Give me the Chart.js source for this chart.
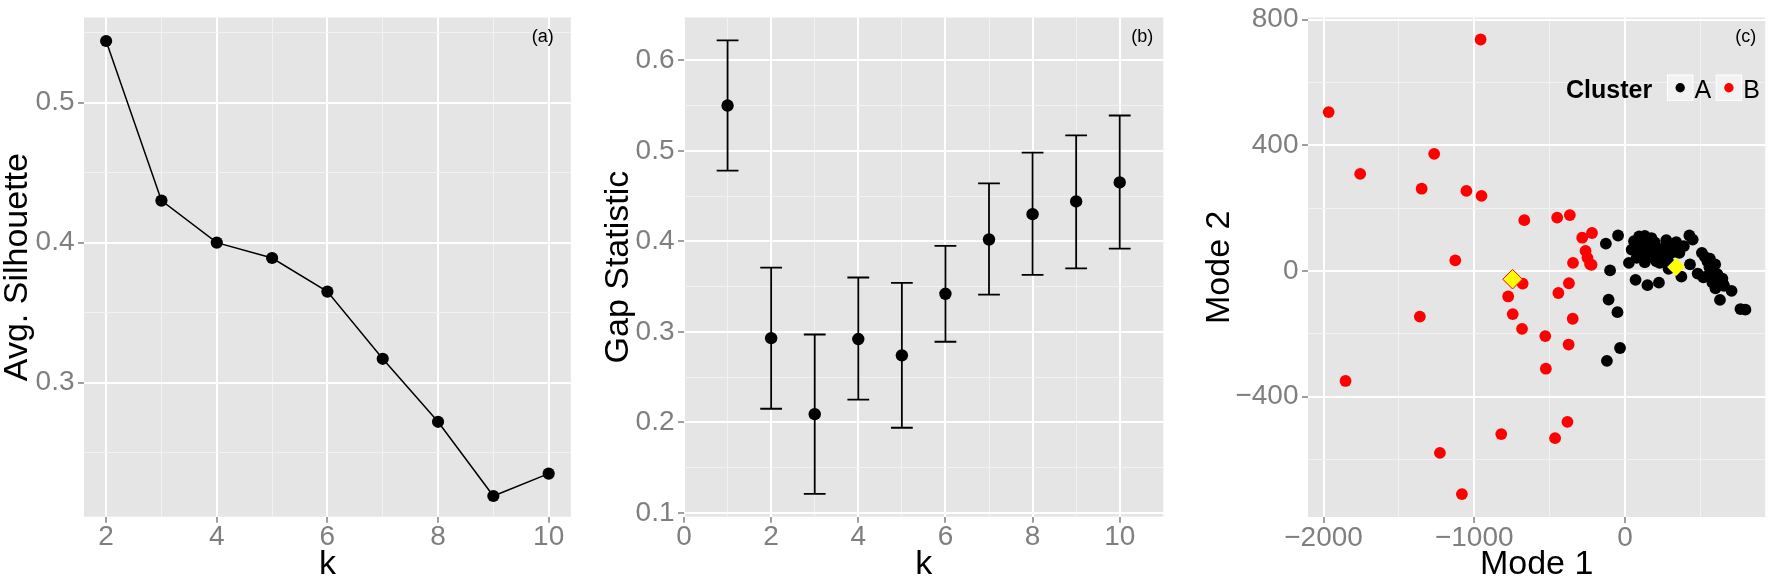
<!DOCTYPE html>
<html>
<head>
<meta charset="utf-8">
<script src="https://cdn.jsdelivr.net/npm/chart.js@4.4.1/dist/chart.umd.min.js"></script>
<style>
  html, body { margin: 0; padding: 0; background: #fff; }
  #wrap { position: relative; width: 1776px; height: 582px; }
  #wrap canvas { position: absolute; top: 0; }
</style>
</head>
<body>
<div id="wrap">
  <canvas id="silChart" width="592" height="582" style="left:0"></canvas>
  <canvas id="gapChart" width="592" height="582" style="left:592px"></canvas>
  <canvas id="modeChart" width="592" height="582" style="left:1184px"></canvas>
</div>
<script>
// (a) average silhouette by k
const silK = [2, 3, 4, 5, 6, 7, 8, 9, 10];
const silValues = [0.544, 0.430, 0.400, 0.389, 0.365, 0.317, 0.272, 0.219, 0.235];
const silXTicks = [2, 4, 6, 8, 10];
const silXMinor = [3, 5, 7, 9];
const silYTicks = [0.3, 0.4, 0.5];
const silYLabels = ['0.3', '0.4', '0.5'];
const silYMinor = [0.25, 0.35, 0.45, 0.55];

// (b) gap statistic with error bars
const gapK = [1, 2, 3, 4, 5, 6, 7, 8, 9, 10];
const gapValues = [0.550, 0.293, 0.209, 0.292, 0.274, 0.342, 0.402, 0.430, 0.444, 0.465];
const gapUpper = [0.622, 0.371, 0.297, 0.360, 0.354, 0.395, 0.464, 0.498, 0.517, 0.539];
const gapLower = [0.478, 0.215, 0.121, 0.225, 0.194, 0.289, 0.341, 0.363, 0.370, 0.392];
const gapXTicks = [0, 2, 4, 6, 8, 10];
const gapXMinor = [1, 3, 5, 7, 9];
const gapYTicks = [0.1, 0.2, 0.3, 0.4, 0.5, 0.6];
const gapYLabels = ['0.1', '0.2', '0.3', '0.4', '0.5', '0.6'];
const gapYMinor = [0.15, 0.25, 0.35, 0.45, 0.55];

// (c) modes, two clusters
const clusterNames = ['A', 'B'];
const clusterAX = [-127, -46, -99, 26, 70, 149, 225, -109, -50, -33, -120,
  374, 289, 431, 482, 510, 563, 598, 630, 707, 427, 449, 766, 799,
  94, 131, 175, 116, 164, 197, 44, 88, 138, 186, 109, 153, 131, 208, 77,
  274, 317, 256, 306, 247, 285, 230, 390, 361,
  547, 580, 613, 646, 624, 657, 547, 580, 530, 600,
  60, 150, 200, 335, 340, 560, 650, 520];
const clusterAY = [87, 113, 2, 26, -28, -45, -37, -91, -131, -245, -286,
  -18, 7, 21, -8, 58, 39, 21, -92, -63, 113, 100, -121, -123,
  110, 112, 105, 91, 87, 91, 68, 63, 68, 58, 47, 42, 28, 31, 42,
  98, 84, 73, 58, 47, 31, 26, 79, 58,
  31, 10, -10, -24, -37, -47, -16, -37, 45, -55,
  95, 75, 70, 62, 92, 12, -40, -20];
const clusterBX = [-958, -1966, -1266, -1757, -1349, -1052, -952, -668, -450, -366,
  -284, -219, -262, -249, -232, -222, -345, -1126, -679, -372, -775, -442, -745,
  -1361, -347, -683, -529, -374, -525, -1854, -382, -821, -464, -1228, -1082];
const clusterBY = [737, 506, 373, 309, 262, 255, 239, 162, 170, 178,
  106, 121, 64, 42, 22, 20, 26, 34, -40, -39, -81, -70, -137,
  -145, -152, -184, -207, -234, -311, -350, -480, -519, -532, -579, -710];
const centroidX = [339, -746];
const centroidY = [13, -26];
const modeXTicks = [-2000, -1000, 0];
const modeXLabels = ['\u22122000', '\u22121000', '0'];
const modeXMinor = [-1500, -500, 500];
const modeYTicks = [-400, 0, 400, 800];
const modeYLabels = ['\u2212400', '0', '400', '800'];
const modeYMinor = [-600, -200, 200, 600];

Chart.defaults.font.family = '"Liberation Sans", Arial, sans-serif';

const panelBg = {
  id: 'panelBg',
  beforeDraw(chart) {
    const { ctx, chartArea: a } = chart;
    ctx.save();
    ctx.fillStyle = '#E5E5E5';
    ctx.fillRect(a.left, a.top, a.right - a.left, a.bottom - a.top);
    ctx.restore();
  }
};

const panelTag = {
  id: 'panelTag',
  afterDraw(chart, args, opts) {
    const { ctx, chartArea: a } = chart;
    ctx.save();
    ctx.font = '18px "Liberation Sans", Arial, sans-serif';
    ctx.fillStyle = '#000';
    ctx.textAlign = 'right';
    ctx.textBaseline = 'middle';
    ctx.fillText(opts.text, a.right - opts.right, 37.5);
    ctx.restore();
  }
};

const clusterKey = {
  id: 'clusterKey',
  afterDraw(chart, args, opts) {
    const ctx = chart.ctx;
    ctx.save();
    ctx.fillStyle = '#000';
    ctx.textBaseline = 'alphabetic';
    ctx.textAlign = 'left';
    ctx.font = 'bold 25px "Liberation Sans", Arial, sans-serif';
    ctx.fillText('Cluster', 382, 97.5);
    ctx.font = '25px "Liberation Sans", Arial, sans-serif';
    clusterNames.forEach((name, i) => {
      const bx = 483.5 + i * 48.7;
      ctx.fillStyle = '#F2F2F2';
      ctx.fillRect(bx, 75, 25.4, 25.4);
      ctx.strokeStyle = '#FFFFFF';
      ctx.lineWidth = 1;
      ctx.strokeRect(bx, 75, 25.4, 25.4);
      ctx.fillStyle = opts.colors[i];
      ctx.beginPath();
      ctx.arc(bx + 12.7, 87.7, 4.7, 0, Math.PI * 2);
      ctx.fill();
      ctx.fillStyle = '#000';
      ctx.fillText(name, bx + 27, 97.5);
    });
    ctx.restore();
  }
};

function linearAxis(o) {
  const isMinor = c => c.tick && !o.major.includes(c.tick.value);
  const left = o.position === 'left';
  return {
    type: 'linear',
    position: o.position,
    min: o.min,
    max: o.max,
    bounds: 'data',
    afterBuildTicks: scale => {
      scale.ticks = o.major.concat(o.minor).sort((p, q) => p - q).map(v => ({ value: v }));
    },
    afterFit: scale => {
      if (left) scale.width = o.size; else scale.height = o.size;
    },
    ticks: {
      autoSkip: false,
      maxRotation: 0,
      minRotation: 0,
      color: '#7F7F7F',
      font: { size: 28, lineHeight: 1 },
      padding: left ? 3.5 : 1,
      callback: v => {
        const i = o.major.indexOf(v);
        return i < 0 ? '' : o.labels[i];
      }
    },
    grid: {
      color: c => isMinor(c) ? '#F2F2F2' : '#FFFFFF',
      lineWidth: c => isMinor(c) ? 1 : 2,
      tickColor: c => isMinor(c) ? 'rgba(0,0,0,0)' : '#7F7F7F',
      tickWidth: 1.5,
      tickLength: 6
    },
    border: { display: false },
    title: {
      display: true,
      text: o.title,
      color: '#000',
      font: { size: 34, lineHeight: 1 },
      padding: left ? { top: o.titlePad, bottom: 0 } : { top: 0, bottom: o.titlePad }
    }
  };
}

const common = {
  responsive: false,
  animation: false,
  devicePixelRatio: 1,
  events: []
};

document.addEventListener('DOMContentLoaded', function () {
  new Chart(document.getElementById('silChart'), {
    type: 'line',
    data: {
      datasets: [{
        data: silK.map((k, i) => ({ x: k, y: silValues[i] })),
        borderColor: '#000',
        borderWidth: 1.5,
        pointRadius: 6.1,
        pointBackgroundColor: '#000',
        pointBorderWidth: 0,
        tension: 0
      }]
    },
    options: {
      ...common,
      layout: { padding: { top: 12, right: 21.2, left: 0, bottom: 0 } },
      scales: {
        x: linearAxis({ position: 'bottom', min: 1.6, max: 10.4, major: silXTicks, labels: silXTicks.map(String),
          minor: silXMinor, size: 65.3, title: 'k', titlePad: 0 }),
        y: linearAxis({ position: 'left', min: 0.2042, max: 0.5608, major: silYTicks, labels: silYLabels,
          minor: silYMinor, size: 84, title: 'Avg. Silhouette', titlePad: 1 })
      },
      plugins: {
        legend: { display: false },
        tooltip: { enabled: false },
        panelTag: { text: '(a)', right: 17 }
      }
    },
    plugins: [panelBg, panelTag]
  });

  const capHalf = 0.25;
  new Chart(document.getElementById('gapChart'), {
    type: 'scatter',
    data: {
      datasets: [{
        data: gapK.flatMap((k, i) => [{ x: k, y: gapLower[i] }, { x: k, y: gapUpper[i] }, { x: k, y: null }]),
        showLine: true,
        borderColor: '#000',
        borderWidth: 1.8,
        pointRadius: 0
      }, {
        data: gapK.flatMap((k, i) => [
          { x: k - capHalf, y: gapUpper[i] }, { x: k + capHalf, y: gapUpper[i] }, { x: k, y: null },
          { x: k - capHalf, y: gapLower[i] }, { x: k + capHalf, y: gapLower[i] }, { x: k, y: null }]),
        showLine: true,
        borderColor: '#000',
        borderWidth: 1.8,
        pointRadius: 0
      }, {
        data: gapK.map((k, i) => ({ x: k, y: gapValues[i] })),
        pointRadius: 6.2,
        pointBackgroundColor: '#000',
        pointBorderWidth: 0
      }]
    },
    options: {
      ...common,
      layout: { padding: { top: 12, right: 20.7, left: 0, bottom: 0 } },
      scales: {
        x: linearAxis({ position: 'bottom', min: 0, max: 11, major: gapXTicks, labels: gapXTicks.map(String),
          minor: gapXMinor, size: 65.3, title: 'k', titlePad: 0 }),
        y: linearAxis({ position: 'left', min: 0.0957, max: 0.6473, major: gapYTicks, labels: gapYLabels,
          minor: gapYMinor, size: 92, title: 'Gap Statistic', titlePad: 9.6 })
      },
      plugins: {
        legend: { display: false },
        tooltip: { enabled: false },
        panelTag: { text: '(b)', right: 10 }
      }
    },
    plugins: [panelBg, panelTag]
  });

  new Chart(document.getElementById('modeChart'), {
    type: 'scatter',
    data: {
      datasets: [{
        label: 'centre A',
        data: [{ x: centroidX[0], y: centroidY[0] }],
        pointStyle: 'rectRot',
        pointRadius: 9,
        pointBackgroundColor: '#FFFF00',
        pointBorderWidth: 0,
        order: 0
      }, {
        label: 'centre B',
        data: [{ x: centroidX[1], y: centroidY[1] }],
        pointStyle: 'rectRot',
        pointRadius: 9.8,
        pointBackgroundColor: '#FFFF00',
        pointBorderColor: '#FF0000',
        pointBorderWidth: 1,
        order: 0
      }, {
        label: 'A',
        data: clusterAX.map((x, i) => ({ x: x, y: clusterAY[i] })),
        pointRadius: 5.9,
        pointBackgroundColor: '#000',
        pointBorderWidth: 0,
        order: 1
      }, {
        label: 'B',
        data: clusterBX.map((x, i) => ({ x: x, y: clusterBY[i] })),
        pointRadius: 5.9,
        pointBackgroundColor: '#FF0000',
        pointBorderWidth: 0,
        order: 1
      }]
    },
    options: {
      ...common,
      layout: { padding: { top: 12, right: 6, left: 0, bottom: 0 } },
      scales: {
        x: linearAxis({ position: 'bottom', min: -2103, max: 930, major: modeXTicks, labels: modeXLabels,
          minor: modeXMinor, size: 65, title: 'Mode 1', titlePad: 0 }),
        y: linearAxis({ position: 'left', min: -783, max: 807, major: modeYTicks, labels: modeYLabels,
          minor: modeYMinor, size: 124, title: 'Mode 2', titlePad: 18.2 })
      },
      plugins: {
        legend: { display: false },
        tooltip: { enabled: false },
        panelTag: { text: '(c)', right: 9 },
        clusterKey: { colors: ['#000000', '#FF0000'] }
      }
    },
    plugins: [panelBg, panelTag, clusterKey]
  });
});
</script>
</body>
</html>
